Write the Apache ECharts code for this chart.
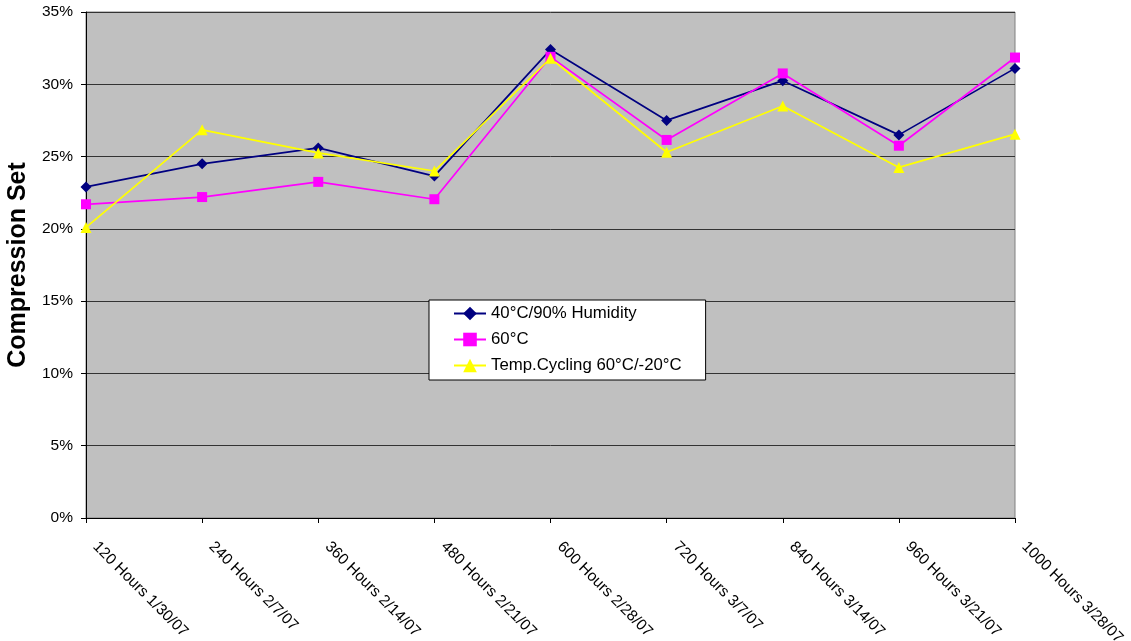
<!DOCTYPE html>
<html>
<head>
<meta charset="utf-8">
<script src="https://cdn.jsdelivr.net/npm/echarts@6/dist/echarts.min.js"></script>
<style>html,body{margin:0;padding:0;background:#fff;}#c{width:1131px;height:641px;}</style>
</head>
<body>
<div id="c"></div>
<script>
const categories = ["120 Hours 1/30/07","240 Hours 2/7/07","360 Hours 2/14/07","480 Hours 2/21/07","600 Hours 2/28/07","720 Hours 3/7/07","840 Hours 3/14/07","960 Hours 3/21/07","1000 Hours 3/28/07"];
const humidity = [22.9, 24.5, 25.6, 23.65, 32.4, 27.5, 30.25, 26.5, 31.1];
const hot60 = [21.7, 22.2, 23.25, 22.05, 31.9, 26.15, 30.75, 25.75, 31.85];
const cycling = [20.1, 26.85, 25.25, 24.0, 31.8, 25.3, 28.5, 24.25, 26.55];
const seriesNames = ["40°C/90% Humidity", "60°C", "Temp.Cycling 60°C/-20°C"];

const chart = echarts.init(document.getElementById('c'));
const font = 'Liberation Sans, Arial, sans-serif';
chart.setOption({
  animation: false,
  textStyle: {fontFamily: font},
  grid: {left: 86, right: 116, top: 12, bottom: 123, outerBoundsMode: 'none', containLabel: false,
         show: true, backgroundColor: '#C0C0C0', borderColor: '#808080', borderWidth: 1},
  legend: {
    orient: 'vertical', left: 429, top: 300,
    backgroundColor: '#fff', borderColor: '#000', borderWidth: 1,
    padding: [5, 24, 6, 24], itemWidth: 32, itemHeight: 17, itemGap: 9,
    textStyle: {fontFamily: font, fontSize: 16.8, color: '#000'},
    data: seriesNames
  },
  xAxis: {
    type: 'category', data: categories, boundaryGap: false,
    axisLine: {lineStyle: {color: '#000', width: 1}},
    axisTick: {show: true, length: 5, lineStyle: {color: '#000'}},
    axisLabel: {rotate: -45, margin: 17, padding: [0, 0, 0, 13], fontSize: 15.5, color: '#000', fontFamily: font, interval: 0},
    splitLine: {show: false}
  },
  yAxis: {
    type: 'value', min: 0, max: 35, interval: 5,
    name: 'Compression Set', nameLocation: 'middle', nameGap: 55,
    nameTextStyle: {fontSize: 25, fontWeight: 'bold', color: '#000', fontFamily: font},
    axisLine: {show: true, lineStyle: {color: '#000', width: 1}},
    axisTick: {show: true, length: 5, lineStyle: {color: '#000'}},
    axisLabel: {formatter: '{value}%', fontSize: 15.5, color: '#000', margin: 13, fontFamily: font},
    splitLine: {lineStyle: {color: '#333', width: 1}}
  },
  series: [
    {name: seriesNames[0], type: 'line', data: humidity, symbol: 'diamond', symbolSize: 11,
     lineStyle: {color: '#000080', width: 1.7}, itemStyle: {color: '#000080'}},
    {name: seriesNames[1], type: 'line', data: hot60, symbol: 'rect', symbolSize: 10,
     lineStyle: {color: '#FF00FF', width: 1.7}, itemStyle: {color: '#FF00FF'}},
    {name: seriesNames[2], type: 'line', data: cycling, symbol: 'triangle', symbolSize: 11,
     lineStyle: {color: '#FFFF00', width: 1.7}, itemStyle: {color: '#FFFF00'}}
  ]
});
</script>
</body>
</html>
